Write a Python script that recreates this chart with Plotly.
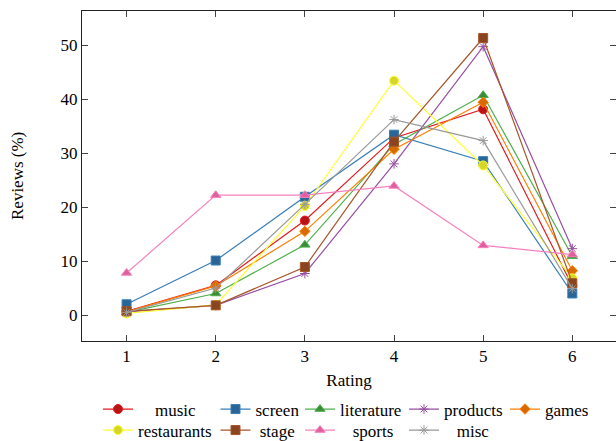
import plotly.graph_objects as go

ratings = [1, 2, 3, 4, 5, 6]
music = [0.7, 5.5, 17.5, 32.8, 38.1, 5.4]
screen = [2.0, 10.1, 21.9, 33.4, 28.5, 4.0]
literature = [0.5, 4.0, 13.0, 31.6, 40.7, 10.9]
products = [0.6, 1.8, 7.7, 28.0, 49.7, 12.3]
games = [0.6, 5.4, 15.5, 30.7, 39.4, 8.2]
restaurants = [0.3, 1.9, 20.2, 43.4, 27.7, 6.8]
stage = [0.7, 1.8, 8.9, 32.1, 51.3, 5.9]
sports = [7.8, 22.2, 22.2, 23.9, 12.9, 11.2]
misc = [0.5, 5.0, 20.5, 36.2, 32.3, 4.9]

y_ticks = [0, 10, 20, 30, 40, 50]

FONT = "Liberation Serif"
NB = "\u00a0"

series = [
    ("music", NB * 4 + "music", music, "#e41a1c", "#b81416", "circle", 9, 104, 0),
    ("screen", "screen", screen, "#377eb8", "#2b6595", "square", 9, 221.5, 0),
    ("literature", "literature", literature, "#4daf4a", "#3a8c38", "triangle-up", 9, 306, 0),
    ("products", "products", products, "#984ea3", "#984ea3", "asterisk-open", 8, 410, 0),
    ("games", "games", games, "#ff7f00", "#d96a00", "diamond", 8, 511, 0),
    ("restaurants", "restaurants", restaurants, "#ffff33", "#d6d626", "circle", 9, 104, 1),
    ("stage", NB + "stage", stage, "#a65628", "#8a4520", "square", 9, 221.5, 1),
    ("sports", NB * 3 + "sports", sports, "#f781bf", "#e0609e", "triangle-up", 9, 306, 1),
    ("misc", NB * 3 + "misc", misc, "#999999", "#999999", "asterisk-open", 8, 410, 1),
]

fig = go.Figure()
layout_legends = {}
for i, (name, label, data, lc, fc, sym, msize, xpx, row) in enumerate(series):
    lname = "legend" if i == 0 else f"legend{i + 1}"
    fig.add_trace(go.Scatter(
        x=ratings, y=data, mode="lines+markers", name=label,
        line=dict(color=lc, width=1.2),
        marker=dict(symbol=sym, size=msize,
                    color=fc, line=dict(color=lc, width=1)),
        legend=lname,
    ))
    ypx = 409.5 if row == 0 else 430.5
    layout_legends[lname] = dict(
        x=(xpx - 6) / 616, y=1 - ypx / 441,
        xref="container", yref="container",
        xanchor="left", yanchor="middle",
        bgcolor="rgba(0,0,0,0)", borderwidth=0,
        font=dict(family=FONT, size=17, color="black"),
        itemwidth=30,
    )

axis_common = dict(
    showgrid=False, zeroline=False,
    showline=True, linecolor="#222", linewidth=1,
    mirror="ticks", ticks="inside", ticklen=6, tickcolor="#444",
    tickfont=dict(family=FONT, size=17, color="black"),
)

fig.update_layout(
    width=616, height=441,
    margin=dict(l=82, r=0, t=11, b=100, autoexpand=False),
    plot_bgcolor="white", paper_bgcolor="white",
    showlegend=True,
    xaxis=dict(
        range=[0.5, 6.49], tickvals=ratings, ticktext=[str(r) for r in ratings],
        title=dict(text="Rating", font=dict(family=FONT, size=17, color="black"), standoff=8),
        **axis_common,
    ),
    yaxis=dict(
        range=[-4.8, 56.3], tickvals=y_ticks, ticktext=[str(v) for v in y_ticks],
        **axis_common,
    ),
    annotations=[dict(
        text="Reviews (%)", textangle=-90, showarrow=False,
        xref="paper", yref="paper", x=(17 - 82) / 534, y=0.5,
        xanchor="center", yanchor="middle",
        font=dict(family=FONT, size=17, color="black"),
    )],
    **layout_legends,
)

fig.write_html("out.html")
